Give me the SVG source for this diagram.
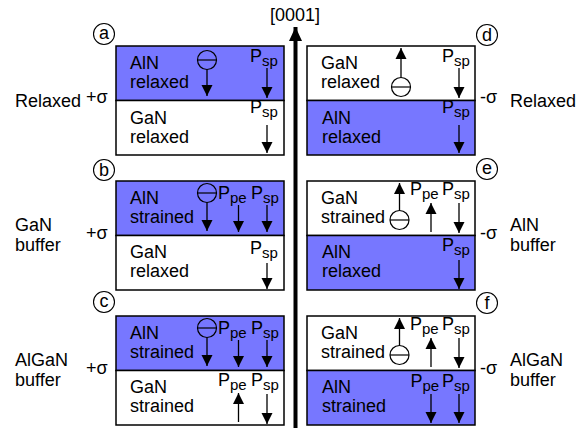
<svg xmlns="http://www.w3.org/2000/svg" width="576" height="428" viewBox="0 0 576 428">
<style>
text{font-family:"Liberation Sans",Arial,sans-serif;font-size:18px;fill:#000}
.sub{font-size:15px}
.blue{fill:#7777ff;stroke:#000;stroke-width:1.5}
.white{fill:#fff;stroke:#000;stroke-width:1.5}
.arr{stroke:#000;stroke-width:1.3;fill:none;marker-end:url(#ah)}
.chg{fill:none;stroke:#000;stroke-width:1.2}
.lbl{fill:none;stroke:#000;stroke-width:1.1}
.ctr{text-anchor:middle}
</style>
<defs>
<marker id="ah" markerUnits="userSpaceOnUse" markerWidth="12" markerHeight="12" viewBox="0 0 12 12" refX="11" refY="6" orient="auto">
<path d="M0,0.5 L11,6 L0,11.5 z" fill="#000"/>
</marker>
<marker id="axh" markerUnits="userSpaceOnUse" markerWidth="16" markerHeight="16" viewBox="0 0 16 16" refX="14" refY="8" orient="auto">
<path d="M0,1.5 L14,8 L0,14.5 z" fill="#000"/>
</marker>
</defs>

<g id="connectors">
<line x1="295.5" y1="428" x2="295.5" y2="27" stroke="#000" stroke-width="4" marker-end="url(#axh)"/>
<text class="ctr" x="295" y="21">[0001]</text>
</g>

<!-- left side labels -->
<g id="label-relaxed-left">
<text x="15" y="107">Relaxed</text><text x="86" y="103">+σ</text>
</g>
<g id="label-gan-buffer">
<text x="15" y="231">GaN</text><text x="15" y="250.5">buffer</text><text x="86" y="239">+σ</text>
</g>
<g id="label-algan-buffer-left">
<text x="15" y="366">AlGaN</text><text x="15" y="385.5">buffer</text><text x="86" y="374">+σ</text>
</g>
<g id="label-relaxed-right">
<text x="480" y="103">-σ</text><text x="510" y="107">Relaxed</text>
</g>
<g id="label-aln-buffer">
<text x="480" y="239">-σ</text><text x="510" y="231">AlN</text><text x="510" y="250.5">buffer</text>
</g>
<g id="label-algan-buffer-right">
<text x="480" y="374">-σ</text><text x="510" y="366">AlGaN</text><text x="510" y="385.5">buffer</text>
</g>

<!-- panel a -->
<g id="panel-a">
<circle class="lbl" cx="104" cy="34" r="10.5"/><text class="ctr" x="104" y="39">a</text>
<rect class="blue" x="116" y="46" width="168" height="54.5"/>
<rect class="white" x="116" y="100.5" width="168" height="54.5"/>
<text x="130" y="69">AlN</text><text x="130" y="88">relaxed</text>
<circle class="chg" cx="207" cy="60" r="9.5"/><line class="chg" x1="197.5" y1="60" x2="216.5" y2="60"/>
<line class="arr" x1="207" y1="69.5" x2="207" y2="96"/>
<text x="250" y="62">P<tspan class="sub" dy="4">sp</tspan></text>
<line class="arr" x1="267" y1="68" x2="267" y2="98"/>
<text x="130" y="124">GaN</text><text x="130" y="143">relaxed</text>
<text x="250" y="113">P<tspan class="sub" dy="4">sp</tspan></text>
<line class="arr" x1="267" y1="125" x2="267" y2="153"/>
</g>

<!-- panel b -->
<g id="panel-b">
<circle class="lbl" cx="104" cy="170" r="10.5"/><text class="ctr" x="104" y="176">b</text>
<rect class="blue" x="116" y="181" width="168" height="54.5"/>
<rect class="white" x="116" y="235.5" width="168" height="54.5"/>
<text x="130" y="204">AlN</text><text x="130" y="223">strained</text>
<circle class="chg" cx="207" cy="193" r="9.5"/><line class="chg" x1="197.5" y1="193" x2="216.5" y2="193"/>
<line class="arr" x1="207" y1="202.5" x2="207" y2="231"/>
<text x="218" y="199">P<tspan class="sub" dy="4">pe</tspan></text>
<line class="arr" x1="238.5" y1="205" x2="238.5" y2="232"/>
<text x="251" y="199">P<tspan class="sub" dy="4">sp</tspan></text>
<line class="arr" x1="267" y1="205" x2="267" y2="232"/>
<text x="130" y="258">GaN</text><text x="130" y="277">relaxed</text>
<text x="250" y="254">P<tspan class="sub" dy="4">sp</tspan></text>
<line class="arr" x1="267" y1="263" x2="267" y2="289"/>
</g>

<!-- panel c -->
<g id="panel-c">
<circle class="lbl" cx="104" cy="302" r="10.5"/><text class="ctr" x="104" y="307">c</text>
<rect class="blue" x="116" y="316" width="168" height="54.5"/>
<rect class="white" x="116" y="370.5" width="168" height="54.5"/>
<text x="130" y="339">AlN</text><text x="130" y="358">strained</text>
<circle class="chg" cx="207" cy="328" r="9.5"/><line class="chg" x1="197.5" y1="328" x2="216.5" y2="328"/>
<line class="arr" x1="207" y1="337.5" x2="207" y2="366"/>
<text x="218" y="334">P<tspan class="sub" dy="4">pe</tspan></text>
<line class="arr" x1="238.5" y1="340" x2="238.5" y2="367"/>
<text x="251" y="334">P<tspan class="sub" dy="4">sp</tspan></text>
<line class="arr" x1="267" y1="340" x2="267" y2="367"/>
<text x="130" y="393">GaN</text><text x="130" y="412">strained</text>
<text x="218" y="386">P<tspan class="sub" dy="4">pe</tspan></text>
<line class="arr" x1="238.5" y1="422" x2="238.5" y2="393"/>
<text x="251" y="386">P<tspan class="sub" dy="4">sp</tspan></text>
<line class="arr" x1="267" y1="394" x2="267" y2="424"/>
</g>

<!-- panel d -->
<g id="panel-d">
<circle class="lbl" cx="487" cy="35" r="10.5"/><text class="ctr" x="487" y="41">d</text>
<rect class="white" x="307" y="46" width="168" height="54.5"/>
<rect class="blue" x="307" y="100.5" width="168" height="54.5"/>
<text x="321" y="69">GaN</text><text x="321" y="88">relaxed</text>
<circle class="chg" cx="401" cy="87" r="9.5"/><line class="chg" x1="391.5" y1="87" x2="410.5" y2="87"/>
<line class="arr" x1="401" y1="77.5" x2="401" y2="48"/>
<text x="442" y="62">P<tspan class="sub" dy="4">sp</tspan></text>
<line class="arr" x1="459" y1="68" x2="459" y2="98"/>
<text x="322" y="124">AlN</text><text x="322" y="143">relaxed</text>
<text x="442" y="113">P<tspan class="sub" dy="4">sp</tspan></text>
<line class="arr" x1="459" y1="125" x2="459" y2="153"/>
</g>

<!-- panel e -->
<g id="panel-e">
<circle class="lbl" cx="487" cy="169" r="10.5"/><text class="ctr" x="487" y="174">e</text>
<rect class="white" x="307" y="181" width="168" height="54.5"/>
<rect class="blue" x="307" y="235.5" width="168" height="54.5"/>
<text x="321" y="204">GaN</text><text x="321" y="223">strained</text>
<circle class="chg" cx="399.5" cy="220" r="9.5"/><line class="chg" x1="390" y1="220" x2="409" y2="220"/>
<line class="arr" x1="399.5" y1="210.5" x2="399.5" y2="183"/>
<text x="410" y="195">P<tspan class="sub" dy="4">pe</tspan></text>
<line class="arr" x1="431" y1="232" x2="431" y2="203"/>
<text x="442" y="195">P<tspan class="sub" dy="4">sp</tspan></text>
<line class="arr" x1="459" y1="203" x2="459" y2="233"/>
<text x="322" y="258">AlN</text><text x="322" y="277">relaxed</text>
<text x="442" y="251">P<tspan class="sub" dy="4">sp</tspan></text>
<line class="arr" x1="459" y1="260" x2="459" y2="289"/>
</g>

<!-- panel f -->
<g id="panel-f">
<circle class="lbl" cx="487" cy="303" r="10.5"/><text class="ctr" x="487" y="309">f</text>
<rect class="white" x="307" y="316" width="168" height="54.5"/>
<rect class="blue" x="307" y="370.5" width="168" height="54.5"/>
<text x="321" y="339">GaN</text><text x="321" y="358">strained</text>
<circle class="chg" cx="399.5" cy="355" r="9.5"/><line class="chg" x1="390" y1="355" x2="409" y2="355"/>
<line class="arr" x1="399.5" y1="345.5" x2="399.5" y2="318"/>
<text x="410" y="330">P<tspan class="sub" dy="4">pe</tspan></text>
<line class="arr" x1="431" y1="367" x2="431" y2="338"/>
<text x="442" y="330">P<tspan class="sub" dy="4">sp</tspan></text>
<line class="arr" x1="459" y1="338" x2="459" y2="368"/>
<text x="322" y="393">AlN</text><text x="322" y="412">strained</text>
<text x="410.5" y="387">P<tspan class="sub" dy="4">pe</tspan></text>
<line class="arr" x1="431" y1="394" x2="431" y2="423"/>
<text x="442" y="387">P<tspan class="sub" dy="4">sp</tspan></text>
<line class="arr" x1="459" y1="394" x2="459" y2="423"/>
</g>
</svg>
